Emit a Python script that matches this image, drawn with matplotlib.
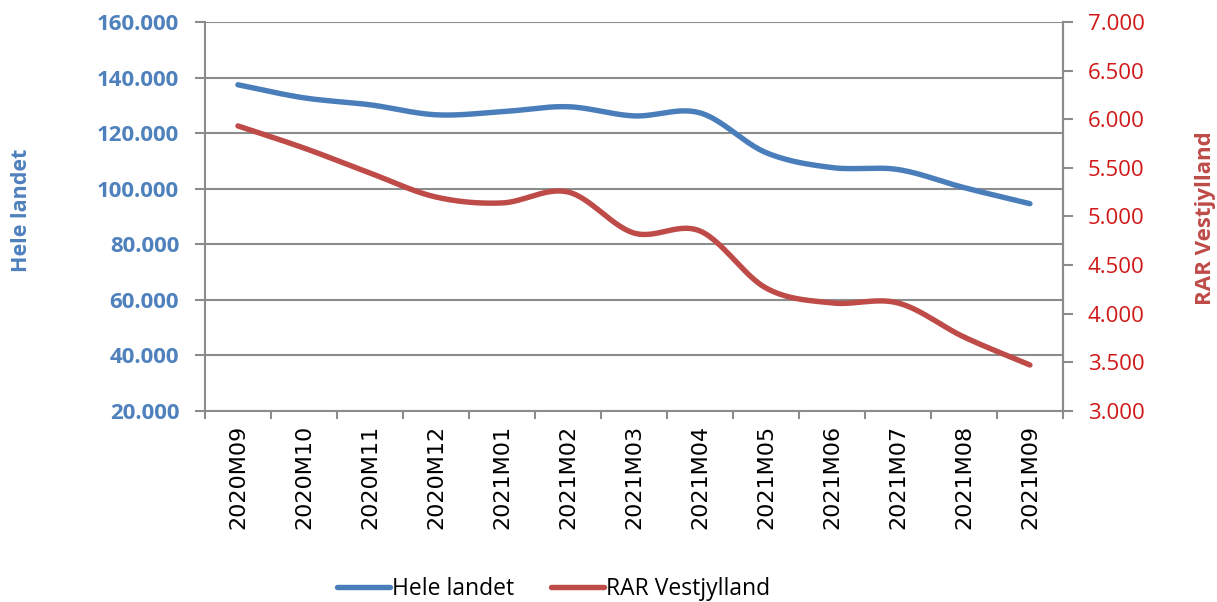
import numpy as np
import matplotlib
matplotlib.use("Agg")
import matplotlib.pyplot as plt
from matplotlib.ticker import FuncFormatter, FixedLocator

plt.rcParams['font.family'] = ['Open Sans', 'DejaVu Sans']

categories = ["2020M09", "2020M10", "2020M11", "2020M12", "2021M01", "2021M02",
              "2021M03", "2021M04", "2021M05", "2021M06", "2021M07", "2021M08", "2021M09"]
hele_landet = [137400, 132700, 130200, 126600, 127700, 129500, 126200, 127300,
               113000, 107600, 106900, 100400, 94600]
rar_vestjylland = [5931, 5704, 5447, 5200, 5139, 5252, 4830, 4851,
                   4265, 4111, 4111, 3761, 3473]

BLUE = "#4A7EBB"
RED = "#BE4B48"
TICK_BLUE = "#4F81BD"
TICK_RED = "#D01818"
GRID = "#8C8C8C"


def smooth(x, y, n=30):
    """Catmull-Rom style smoothing (as Excel's smoothed line) for display."""
    x = np.asarray(x, float)
    y = np.asarray(y, float)
    px = np.concatenate([[2 * x[0] - x[1]], x, [2 * x[-1] - x[-2]]])
    py = np.concatenate([[2 * y[0] - y[1]], y, [2 * y[-1] - y[-2]]])
    xs, ys = [], []
    t = np.linspace(0, 1, n)
    for i in range(1, len(px) - 2):
        p0, p1, p2, p3 = [np.array([px[j], py[j]]) for j in (i - 1, i, i + 1, i + 2)]
        c1 = p1 + (p2 - p0) / 6
        c2 = p2 - (p3 - p1) / 6
        b = ((1 - t) ** 3)[:, None] * p1 + (3 * (1 - t) ** 2 * t)[:, None] * c1 + \
            (3 * (1 - t) * t ** 2)[:, None] * c2 + (t ** 3)[:, None] * p2
        xs.extend(b[:, 0])
        ys.extend(b[:, 1])
    return np.array(xs), np.array(ys)


fig = plt.figure(figsize=(12.17, 6.02), dpi=100)
ax = fig.add_axes([0.1684, 0.3173, 0.7050, 0.6462])
ax2 = ax.twinx()

xpos = np.arange(len(categories))
sx, sy = smooth(xpos, hele_landet)
l1, = ax.plot(sx, sy, color=BLUE, lw=3.9, solid_capstyle='round', label="Hele landet", zorder=3)
sx2, sy2 = smooth(xpos, rar_vestjylland)
l2, = ax2.plot(sx2, sy2, color=RED, lw=3.9, solid_capstyle='round', label="RAR Vestjylland", zorder=3)

ax.set_xlim(-0.5, len(categories) - 0.5)
ax.set_ylim(20000, 160000)
ax2.set_ylim(3000, 7000)

fmt = FuncFormatter(lambda v, p: f"{v:,.0f}".replace(",", "."))
ax.yaxis.set_major_locator(FixedLocator(np.arange(20000, 160001, 20000)))
ax2.yaxis.set_major_locator(FixedLocator(np.arange(3000, 7001, 500)))
ax.yaxis.set_major_formatter(fmt)
ax2.yaxis.set_major_formatter(fmt)

ax.set_xticks(xpos)
ax.set_xticklabels(categories, rotation=90, fontsize=16, color="black",
                   fontfamily=['DejaVu Sans'])
ax.xaxis.set_minor_locator(FixedLocator(np.arange(-0.5, len(categories), 1)))
ax.tick_params(axis='x', which='major', length=0, pad=10)
ax.tick_params(axis='x', which='minor', length=6, width=1.5, color=GRID, direction='out')

ax.tick_params(axis='y', length=7, width=1.5, color=GRID, direction='out', pad=11.5,
               labelsize=16, labelcolor=TICK_BLUE)
for lab in ax.get_yticklabels():
    lab.set_fontweight('bold')
ax2.tick_params(axis='y', length=7, width=1.5, color=GRID, direction='out', pad=11,
                labelsize=16, labelcolor=TICK_RED)

ax.grid(axis='y', color=GRID, lw=1.5)
ax.set_axisbelow(True)
for a in (ax, ax2):
    for s in a.spines.values():
        s.set_color(GRID)
        s.set_linewidth(1.5)
    a.spines['top'].set_visible(False)
ax2.spines['left'].set_visible(False)
ax2.spines['bottom'].set_visible(False)

fig.text(22 / 1217, 1 - 210 / 602, "Hele landet", rotation=90, ha='center', va='center',
         color=TICK_BLUE, fontsize=15.5, fontweight='bold')
fig.text(1206 / 1217, 1 - 218 / 602, "RAR Vestjylland", rotation=90, ha='center', va='center',
         color=RED, fontsize=16, fontweight='bold')

fig.legend(handles=[l1, l2], loc='center', bbox_to_anchor=(0.455, 0.022), ncol=2,
           frameon=False, fontsize=16.5, handlelength=2.3, handletextpad=0.1,
           columnspacing=1.6)

fig.savefig("out.png", dpi=100)
